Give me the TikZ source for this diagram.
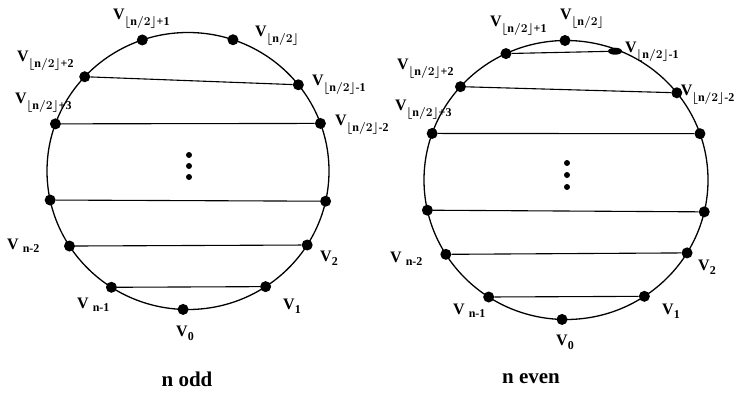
\documentclass[tikz,border=0pt]{standalone}
\usepackage{fontspec}
\setmainfont{Liberation Serif}
\usetikzlibrary{calc,shapes.geometric}
\newcommand\fl[1]{V\kern-0.5pt\raisebox{-6pt}{\fontsize{12}{12}\selectfont\boldmath$\lfloor\mathrm{n}/2\rfloor$#1}}
\newcommand\vs[1]{V\raisebox{-4pt}{\fontsize{12}{12}\selectfont #1}}
\newcommand\vn[1]{V\hspace{4pt}\raisebox{-3pt}{\fontsize{12}{12}\selectfont #1}}
\tikzset{
  vtx/.style={circle,fill=black,inner sep=0pt,minimum size=11pt},
  blob/.style={ellipse,fill=black,inner sep=0pt,minimum width=14pt,minimum height=7pt},
  sdot/.style={circle,fill=black,inner sep=0pt,minimum size=6pt},
  lbl/.style={inner sep=0pt,font=\fontsize{16}{16}\selectfont\bfseries},
  captext/.style={inner sep=0pt,font=\fontsize{21}{21}\selectfont\bfseries},
  ring/.style={line width=1.3pt},
  chord/.style={line width=1.1pt}
}
\begin{document}
\begin{tikzpicture}[x=1pt,y=-1pt]
\useasboundingbox (0,0) rectangle (735,394);
% ---------- left: n odd ----------
\coordinate (Lc) at (188,171);
\draw[ring] (Lc) ellipse [x radius=141pt, y radius=138.5pt];
\foreach \n/\a in {Lp1/108.9, Lh/71.4, Lp2/137.1, Lm1/38.5, Lp3/160.1, Lm2/20.1,
                   La/192.1, Lb/347.4, Lnm2/212.8, L2/327.7, Lnm1/237.1, L1/303.4, L0/268}
  \node[vtx] (\n) at ($(Lc)+(\a:141pt and 138.5pt)$) {};
\draw[chord] (Lp2) -- (Lm1);
\draw[chord] (Lp3) -- (Lm2);
\draw[chord] (La) -- (Lb);
\draw[chord] (Lnm2) -- (L2);
\draw[chord] (Lnm1) -- (L1);
\node[sdot] (Ld1) at (189,155) {};
\node[sdot] (Ld2) at (189,166) {};
\node[sdot] (Ld3) at (189,177) {};
\node[lbl,anchor=west] (tLp1) at (113,19) {\fl{+1}};
\node[lbl,anchor=west] (tLh) at (255,36) {\fl{}};
\node[lbl,anchor=west] (tLp2) at (17,61) {\fl{+2}};
\node[lbl,anchor=west] (tLm1) at (312,85) {\fl{-1}};
\node[lbl,anchor=west] (tLp3) at (15,103) {\fl{+3}};
\node[lbl,anchor=west] (tLm2) at (335,125) {\fl{-2}};
\node[lbl,anchor=west] (tLnm2) at (7,246) {\vn{n-2}};
\node[lbl,anchor=west] (tL2) at (320,258) {\vs{2}};
\node[lbl,anchor=west] (tLnm1) at (77,305) {\vn{n-1}};
\node[lbl,anchor=west] (tL1) at (283,306) {\vs{1}};
\node[lbl] (tL0) at (185,333) {\vs{0}};
\node[captext] (capL) at (187,379) {n odd};
% ---------- right: n even ----------
\coordinate (Rc) at (566,180);
\draw[ring] (Rc) ellipse [x radius=142pt, y radius=139.5pt];
\foreach \n/\a in {Rh/90.4, Rp1/115, Rp2/138, Rm2/38.7, Rp3/160.5, Rm3/19.4,
                   Ra/192.5, Rb/346.8, Rnm2/212.2, R2/328.5, Rnm1/237, R1/303.5, R0/268.4}
  \node[vtx] (\n) at ($(Rc)+(\a:142pt and 139.5pt)$) {};
\node[blob] (Rm1) at ($(Rc)+(68.5:142pt and 139.5pt)+(-3pt,-1pt)$) {};
\draw[chord] (Rp1) -- (Rm1);
\draw[chord] (Rp2) -- (Rm2);
\draw[chord] (Rp3) -- (Rm3);
\draw[chord] (Ra) -- (Rb);
\draw[chord] (Rnm2) -- (R2);
\draw[chord] (Rnm1) -- (R1);
\node[sdot] (Rd1) at (567,163) {};
\node[sdot] (Rd2) at (567,175) {};
\node[sdot] (Rd3) at (567,187) {};
\node[lbl,anchor=west] (tRp1) at (490,26) {\fl{+1}};
\node[lbl,anchor=west] (tRh) at (560,19) {\fl{}};
\node[lbl,anchor=west] (tRm1) at (625,52) {\fl{-1}};
\node[lbl,anchor=west] (tRp2) at (397,69) {\fl{+2}};
\node[lbl,anchor=east] (tRm2) at (734.5,95) {\fl{-2}};
\node[lbl,anchor=west] (tRp3) at (395,110) {\fl{+3}};
\node[lbl,anchor=west] (tRnm2) at (390,259) {\vn{n-2}};
\node[lbl,anchor=west] (tR2) at (698,267) {\vs{2}};
\node[lbl,anchor=west] (tRnm1) at (453,311) {\vn{n-1}};
\node[lbl,anchor=west] (tR1) at (662,311) {\vs{1}};
\node[lbl] (tR0) at (565,342) {\vs{0}};
\node[captext] (capR) at (531,379) {n even};
\end{tikzpicture}
\end{document}
